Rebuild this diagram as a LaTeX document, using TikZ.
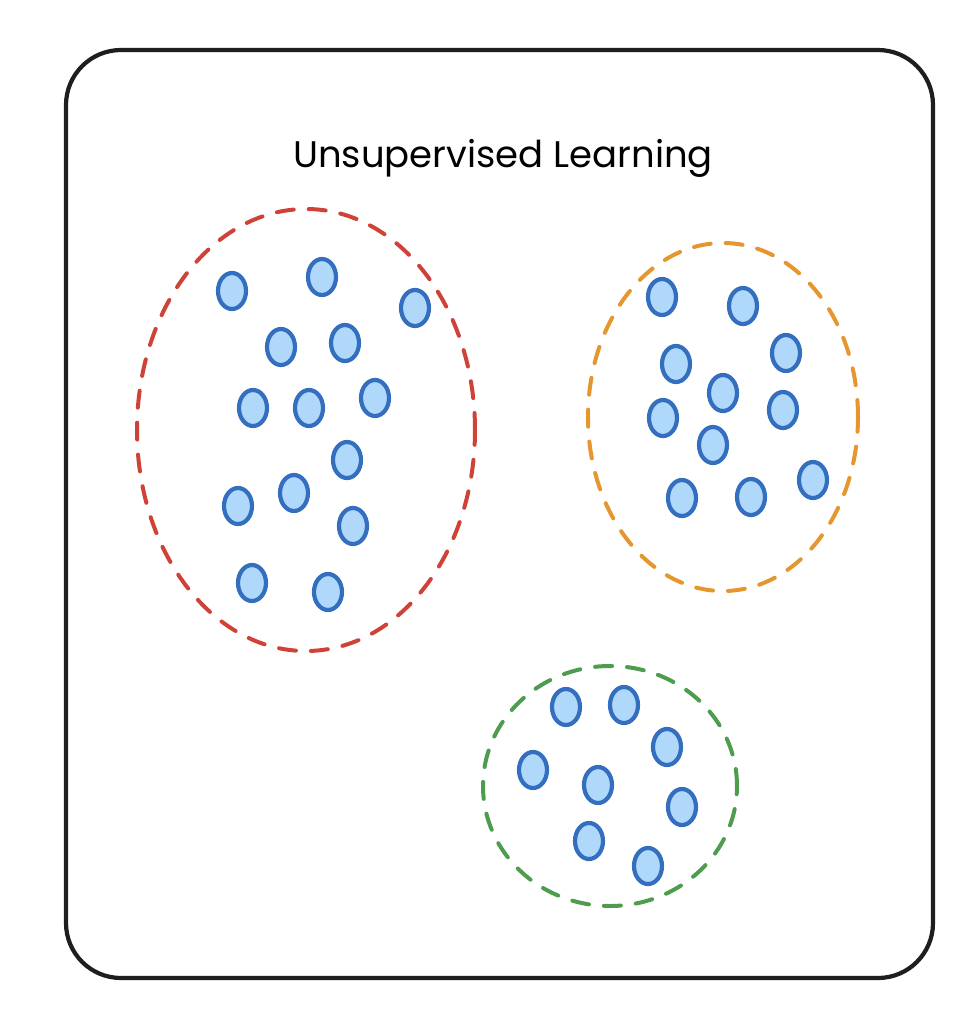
\documentclass[tikz,border=0pt]{standalone}
\usepackage{fontspec}
\setmainfont{Poppins}
\usepackage{xcolor}
\usepackage{tikz}
\usetikzlibrary{positioning}
\definecolor{framegray}{RGB}{30,30,30}
\definecolor{clusterred}{RGB}{207,66,56}
\definecolor{clusterorange}{RGB}{230,150,46}
\definecolor{clustergreen}{RGB}{78,156,78}
\definecolor{dotblue}{RGB}{52,110,190}
\definecolor{dotfill}{RGB}{176,216,250}
\tikzset{
  frame/.style={draw=framegray, line width=4.2pt, rounded corners=55pt},
  cluster/.style={line width=4pt, dash pattern=on 17pt off 15pt, line cap=round},
  dot/.style={draw=dotblue, fill=dotfill, line width=4.2pt}
}

\begin{document}
\begin{tikzpicture}[x=1pt,y=-1pt]
\useasboundingbox (0,0) rectangle (980,1018);

% ---------------- Frame and title ----------------
\draw[frame] (66,50) rectangle (933,978);
\node (title) at (503,158) {\fontsize{37}{44}\selectfont Unsupervised Learning};

% ---------------- LEFT: red cluster ----------------
\draw[cluster, draw=clusterred] (306,430) ellipse (169pt and 221pt);
\foreach \px/\py in {232/291, 322/277, 415/308, 281/347, 345/343,
                     253/408, 309/408, 375/398, 347/460, 294/493,
                     238/506, 353/526, 252/583, 328/592}
  \draw[dot] (\px,\py) ellipse (14pt and 18pt);

% ---------------- RIGHT: orange cluster ----------------
\draw[cluster, draw=clusterorange] (723,417) ellipse (135pt and 174pt);
\foreach \px/\py in {662/297, 743/306, 786/353, 676/364, 723/393,
                     663/418, 783/410, 713/445, 813/480, 682/498, 751/497}
  \draw[dot] (\px,\py) ellipse (14pt and 18pt);

% ---------------- BOTTOM: green cluster ----------------
\draw[cluster, draw=clustergreen] (610,786) ellipse (127pt and 120pt);
\foreach \px/\py in {566/707, 624/705, 667/747, 533/770,
                     598/785, 682/807, 589/841, 648/866}
  \draw[dot] (\px,\py) ellipse (14pt and 18pt);
\end{tikzpicture}
\end{document}
